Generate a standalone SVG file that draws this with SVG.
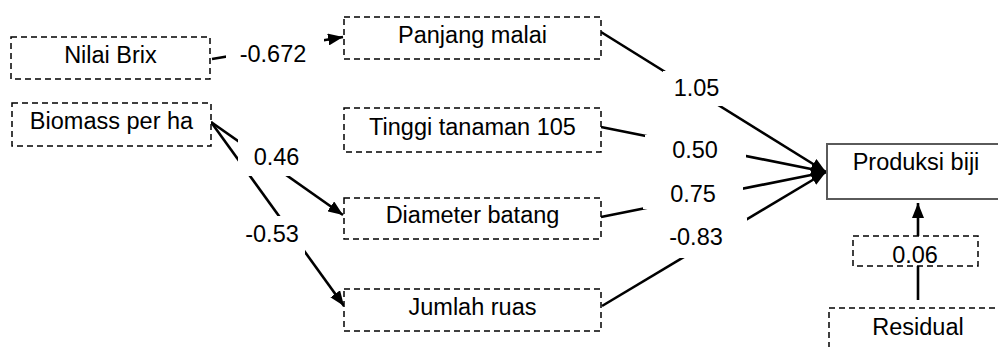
<svg xmlns="http://www.w3.org/2000/svg" width="998" height="347" viewBox="0 0 998 347">
<defs>
<style>
.box{fill:#fff;stroke:#000;stroke-width:1.5;stroke-dasharray:6 4}
.main{fill:#fff;stroke:#5a5a5a;stroke-width:2}
.t{font-family:"Liberation Sans",Arial,sans-serif;font-size:23.5px;fill:#000;text-anchor:middle}
.c{stroke:#000;stroke-width:2.6;fill:none;marker-end:url(#ah)}
.bg{fill:#fff;stroke:none}
</style>
<marker id="ah" markerUnits="userSpaceOnUse" markerWidth="15" markerHeight="12" refX="15" refY="6" orient="auto">
<path d="M0,0 L15,6 L0,12 z" fill="#000"/>
</marker>
</defs>
<rect width="998" height="347" fill="#fff"/>
<g id="connectors">
<line class="c" x1="212" y1="59" x2="343" y2="37"/>
<line class="c" x1="211" y1="122" x2="343" y2="215"/>
<line class="c" x1="211" y1="122" x2="344" y2="306"/>
<line class="c" x1="601" y1="32" x2="826" y2="172"/>
<line class="c" x1="601" y1="127" x2="826" y2="172"/>
<line class="c" x1="601" y1="217" x2="826" y2="172"/>
<line class="c" x1="602" y1="306" x2="826" y2="172"/>
<line class="c" x1="918" y1="300" x2="918" y2="203"/>
</g>
<g id="labels">
<rect class="bg" x="226" y="38" width="98" height="40"/>
<text class="t" x="273" y="62">-0.672</text>
<rect class="bg" x="238" y="138" width="62" height="38"/>
<text class="t" x="276.5" y="165">0.46</text>
<rect class="bg" x="240" y="216" width="65" height="39"/>
<text class="t" x="272" y="242">-0.53</text>
<rect class="bg" x="663" y="71" width="62" height="35"/>
<text class="t" x="696.5" y="96">1.05</text>
<rect class="bg" x="645" y="135" width="101" height="27"/>
<text class="t" x="695" y="158">0.50</text>
<rect class="bg" x="643" y="185" width="100" height="24"/>
<text class="t" x="693" y="202">0.75</text>
<rect class="bg" x="665" y="218" width="82" height="40"/>
<text class="t" x="696" y="245">-0.83</text>
</g>
<g id="nilai-brix"><rect class="box" x="11" y="37" width="199" height="42"/><text class="t" x="110.5" y="63">Nilai Brix</text></g>
<g id="biomass"><rect class="box" x="12" y="103" width="199" height="43"/><text class="t" x="111.5" y="129">Biomass per ha</text></g>
<g id="panjang-malai"><rect class="box" x="344" y="17" width="257" height="42"/><text class="t" x="472.5" y="43">Panjang malai</text></g>
<g id="tinggi-tanaman"><rect class="box" x="344" y="108" width="257" height="44"/><text class="t" x="472.5" y="135">Tinggi tanaman 105</text></g>
<g id="diameter-batang"><rect class="box" x="344" y="198" width="257" height="41"/><text class="t" x="472.5" y="223">Diameter batang</text></g>
<g id="jumlah-ruas"><rect class="box" x="344" y="289" width="257" height="42"/><text class="t" x="472.5" y="315">Jumlah ruas</text></g>
<g id="produksi-biji"><rect class="main" x="827" y="144" width="185" height="55"/><text class="t" x="916" y="170">Produksi biji</text></g>
<g id="residual-coef"><rect class="box" x="853" y="236" width="125" height="30"/><text class="t" x="915" y="263">0.06</text></g>
<g id="residual"><rect class="box" x="829" y="308" width="190" height="60"/><text class="t" x="918" y="335">Residual</text></g>
</svg>
